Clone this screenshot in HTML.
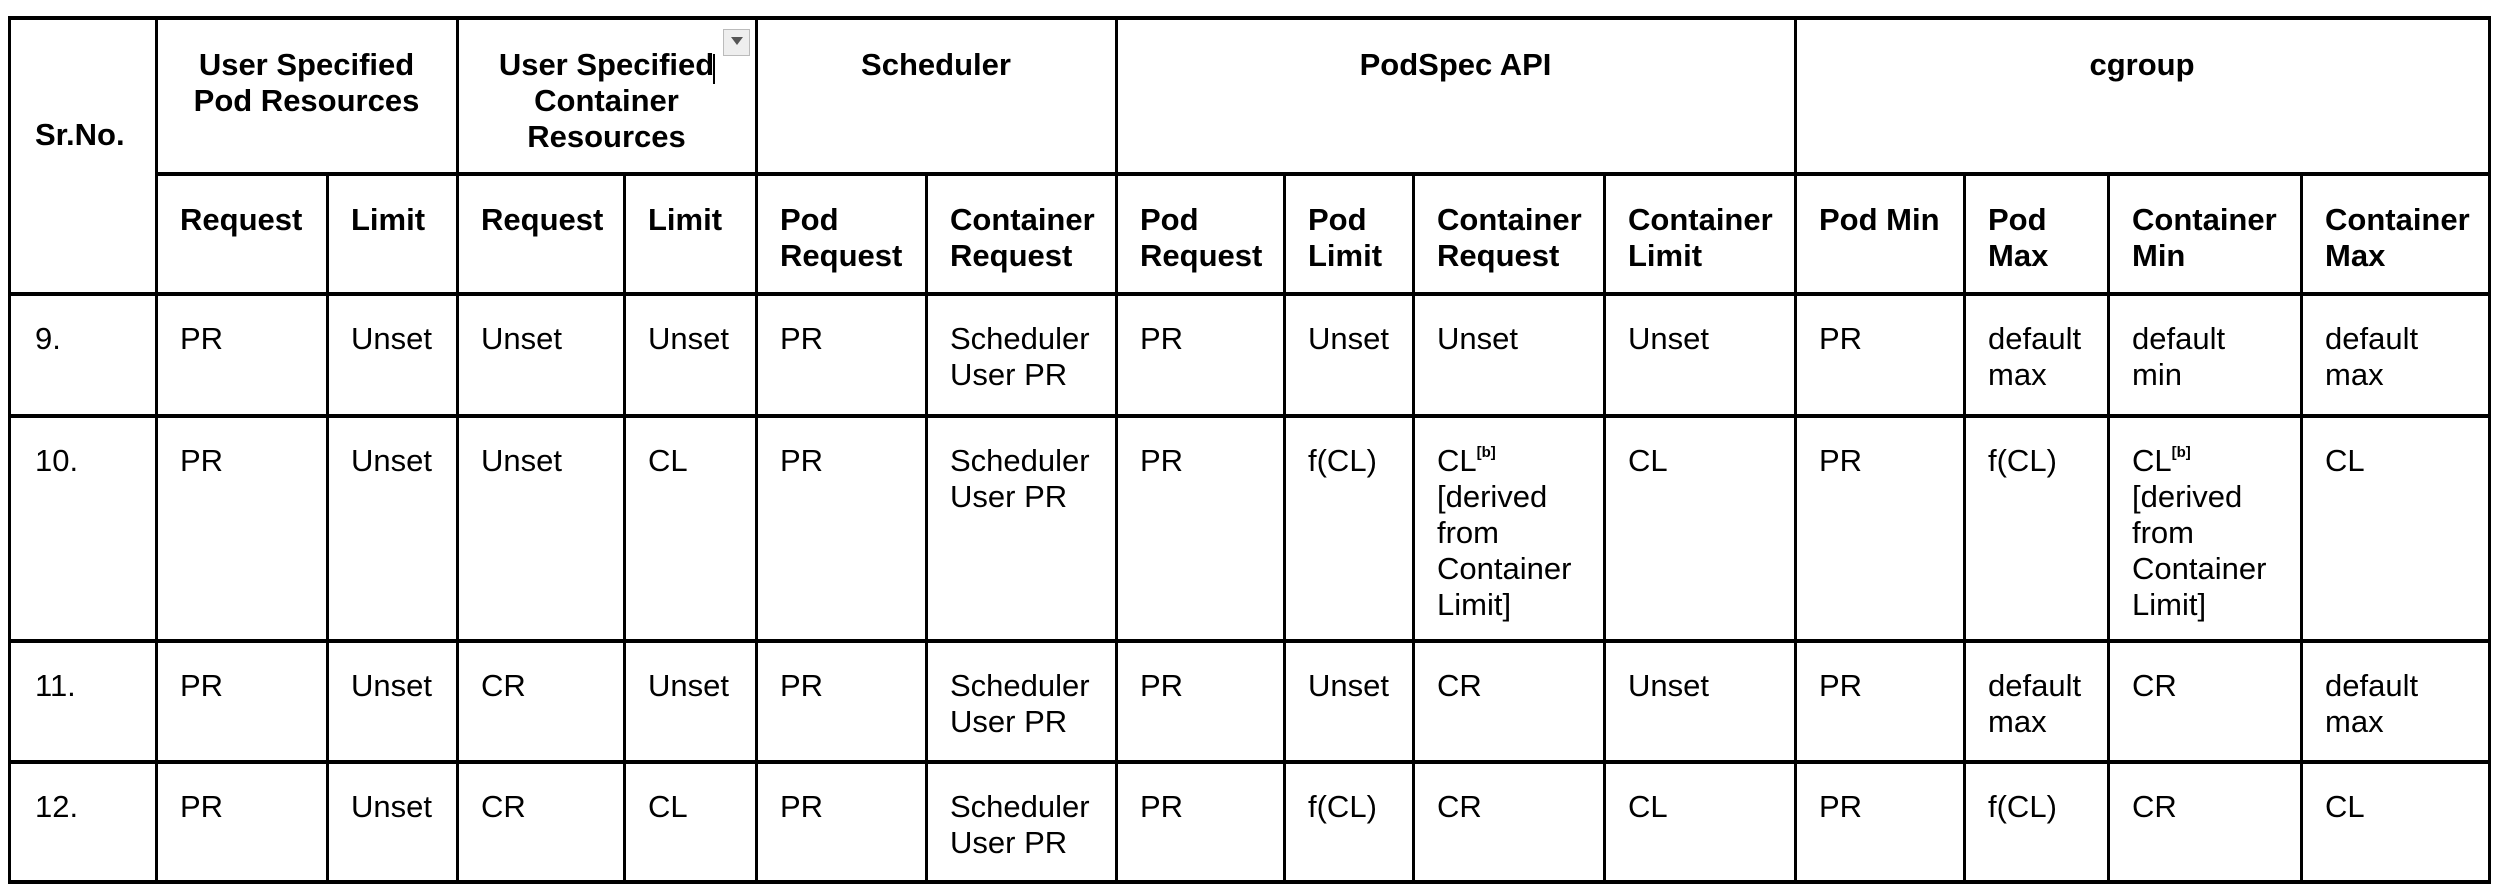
<!DOCTYPE html>
<html><head><meta charset="utf-8"><style>
html,body{margin:0;padding:0;background:#fff;}
body{width:2508px;height:896px;position:relative;overflow:hidden;font-family:"Liberation Sans",Arial,sans-serif;font-size:31px;line-height:36px;color:#000;}
.v{position:absolute;width:3px;background:#000;}
.h{position:absolute;height:4px;background:#000;left:8px;width:2483px;}
.t{position:absolute;white-space:nowrap;}
.b{font-weight:bold;}
.c{text-align:center;}
sup{font-size:15px;font-weight:bold;line-height:0;vertical-align:14px;}
</style></head><body>
<div class="h" style="top:16px"></div>
<div class="h" style="top:172px;left:156px;width:2335px"></div>
<div class="h" style="top:292px"></div>
<div class="h" style="top:414px"></div>
<div class="h" style="top:639px"></div>
<div class="h" style="top:760px"></div>
<div class="h" style="top:880px"></div>
<div class="v" style="left:8px;top:16px;height:868px"></div>
<div class="v" style="left:155px;top:16px;height:868px"></div>
<div class="v" style="left:456px;top:16px;height:868px"></div>
<div class="v" style="left:755px;top:16px;height:868px"></div>
<div class="v" style="left:1115px;top:16px;height:868px"></div>
<div class="v" style="left:1794px;top:16px;height:868px"></div>
<div class="v" style="left:2488px;top:16px;height:868px"></div>
<div class="v" style="left:326px;top:172px;height:712px"></div>
<div class="v" style="left:623px;top:172px;height:712px"></div>
<div class="v" style="left:925px;top:172px;height:712px"></div>
<div class="v" style="left:1283px;top:172px;height:712px"></div>
<div class="v" style="left:1412px;top:172px;height:712px"></div>
<div class="v" style="left:1603px;top:172px;height:712px"></div>
<div class="v" style="left:1963px;top:172px;height:712px"></div>
<div class="v" style="left:2107px;top:172px;height:712px"></div>
<div class="v" style="left:2300px;top:172px;height:712px"></div>

<div style="position:absolute;left:723px;top:29px;width:27px;height:27px;background:#eee;border:1px solid #bbb;box-sizing:border-box;"></div>
<div style="position:absolute;left:731px;top:37px;width:0;height:0;border-left:6px solid transparent;border-right:6px solid transparent;border-top:8px solid #555;"></div>
<div style="position:absolute;left:713px;top:54px;width:2px;height:30px;background:#000;"></div>

<div class="t b" style="left:35px;top:117px">Sr.No.</div>
<div class="t b c" style="left:156px;width:301px;top:47px">User Specified<br>Pod Resources</div>
<div class="t b c" style="left:457px;width:299px;top:47px">User Specified<br>Container<br>Resources</div>
<div class="t b c" style="left:756px;width:360px;top:47px">Scheduler</div>
<div class="t b c" style="left:1116px;width:679px;top:47px">PodSpec API</div>
<div class="t b c" style="left:1795px;width:694px;top:47px">cgroup</div>

<div class="t b" style="left:180px;top:202px">Request</div>
<div class="t b" style="left:351px;top:202px">Limit</div>
<div class="t b" style="left:481px;top:202px">Request</div>
<div class="t b" style="left:648px;top:202px">Limit</div>
<div class="t b" style="left:780px;top:202px">Pod<br>Request</div>
<div class="t b" style="left:950px;top:202px">Container<br>Request</div>
<div class="t b" style="left:1140px;top:202px">Pod<br>Request</div>
<div class="t b" style="left:1308px;top:202px">Pod<br>Limit</div>
<div class="t b" style="left:1437px;top:202px">Container<br>Request</div>
<div class="t b" style="left:1628px;top:202px">Container<br>Limit</div>
<div class="t b" style="left:1819px;top:202px">Pod Min</div>
<div class="t b" style="left:1988px;top:202px">Pod<br>Max</div>
<div class="t b" style="left:2132px;top:202px">Container<br>Min</div>
<div class="t b" style="left:2325px;top:202px">Container<br>Max</div>

<div class="t" style="left:35px;top:321px">9.</div>
<div class="t" style="left:180px;top:321px">PR</div>
<div class="t" style="left:351px;top:321px">Unset</div>
<div class="t" style="left:481px;top:321px">Unset</div>
<div class="t" style="left:648px;top:321px">Unset</div>
<div class="t" style="left:780px;top:321px">PR</div>
<div class="t" style="left:950px;top:321px">Scheduler<br>User PR</div>
<div class="t" style="left:1140px;top:321px">PR</div>
<div class="t" style="left:1308px;top:321px">Unset</div>
<div class="t" style="left:1437px;top:321px">Unset</div>
<div class="t" style="left:1628px;top:321px">Unset</div>
<div class="t" style="left:1819px;top:321px">PR</div>
<div class="t" style="left:1988px;top:321px">default<br>max</div>
<div class="t" style="left:2132px;top:321px">default<br>min</div>
<div class="t" style="left:2325px;top:321px">default<br>max</div>

<div class="t" style="left:35px;top:443px">10.</div>
<div class="t" style="left:180px;top:443px">PR</div>
<div class="t" style="left:351px;top:443px">Unset</div>
<div class="t" style="left:481px;top:443px">Unset</div>
<div class="t" style="left:648px;top:443px">CL</div>
<div class="t" style="left:780px;top:443px">PR</div>
<div class="t" style="left:950px;top:443px">Scheduler<br>User PR</div>
<div class="t" style="left:1140px;top:443px">PR</div>
<div class="t" style="left:1308px;top:443px">f(CL)</div>
<div class="t" style="left:1437px;top:443px">CL<sup>[b]</sup><br>[derived<br>from<br>Container<br>Limit]</div>
<div class="t" style="left:1628px;top:443px">CL</div>
<div class="t" style="left:1819px;top:443px">PR</div>
<div class="t" style="left:1988px;top:443px">f(CL)</div>
<div class="t" style="left:2132px;top:443px">CL<sup>[b]</sup><br>[derived<br>from<br>Container<br>Limit]</div>
<div class="t" style="left:2325px;top:443px">CL</div>

<div class="t" style="left:35px;top:668px">11.</div>
<div class="t" style="left:180px;top:668px">PR</div>
<div class="t" style="left:351px;top:668px">Unset</div>
<div class="t" style="left:481px;top:668px">CR</div>
<div class="t" style="left:648px;top:668px">Unset</div>
<div class="t" style="left:780px;top:668px">PR</div>
<div class="t" style="left:950px;top:668px">Scheduler<br>User PR</div>
<div class="t" style="left:1140px;top:668px">PR</div>
<div class="t" style="left:1308px;top:668px">Unset</div>
<div class="t" style="left:1437px;top:668px">CR</div>
<div class="t" style="left:1628px;top:668px">Unset</div>
<div class="t" style="left:1819px;top:668px">PR</div>
<div class="t" style="left:1988px;top:668px">default<br>max</div>
<div class="t" style="left:2132px;top:668px">CR</div>
<div class="t" style="left:2325px;top:668px">default<br>max</div>

<div class="t" style="left:35px;top:789px">12.</div>
<div class="t" style="left:180px;top:789px">PR</div>
<div class="t" style="left:351px;top:789px">Unset</div>
<div class="t" style="left:481px;top:789px">CR</div>
<div class="t" style="left:648px;top:789px">CL</div>
<div class="t" style="left:780px;top:789px">PR</div>
<div class="t" style="left:950px;top:789px">Scheduler<br>User PR</div>
<div class="t" style="left:1140px;top:789px">PR</div>
<div class="t" style="left:1308px;top:789px">f(CL)</div>
<div class="t" style="left:1437px;top:789px">CR</div>
<div class="t" style="left:1628px;top:789px">CL</div>
<div class="t" style="left:1819px;top:789px">PR</div>
<div class="t" style="left:1988px;top:789px">f(CL)</div>
<div class="t" style="left:2132px;top:789px">CR</div>
<div class="t" style="left:2325px;top:789px">CL</div>
</body></html>
